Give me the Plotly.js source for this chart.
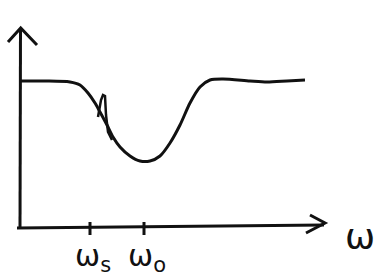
<!DOCTYPE html>
<html>
<head>
<meta charset="utf-8">
<script src="https://cdn.plot.ly/plotly-3.0.1.min.js"></script>
<style>html,body{margin:0;padding:0;background:#fff;}#chart{width:376px;height:280px;}</style>
</head>
<body>
<div id="chart"></div>
<script>
// Response curve (arbitrary units)
const curveX = [0, 2.5, 5, 6, 6.8, 7.5, 8, 8.7, 9.3, 10, 11, 12, 13, 14, 15, 16, 17, 18, 19, 20.3, 23, 24.7, 26.7, 28.5];
const curveY = [14.7, 14.7, 14.6, 14.3, 13.5, 12.5, 11.6, 10.3, 9.1, 8.1, 7.2, 6.7, 6.7, 7.2, 8.5, 10.3, 12.5, 14.1, 14.8, 14.9, 14.7, 14.6, 14.7, 14.8];
// Narrow spike near omega_s
const spikeX = [7.8, 8.1, 8.3, 8.5, 8.6, 8.8, 9.2];
const spikeY = [11.1, 12.8, 13.3, 13.2, 11.3, 9.6, 8.8];
// Tick marks on the frequency axis
const tickVals = [7.0, 12.4];
const tickLabels = ['ω<sub>s</sub>', 'ω<sub>o</sub>'];
const axisLabel = 'ω';

const ink = '#111';
const traces = [
  {x: curveX, y: curveY, mode: 'lines', line: {color: ink, width: 3, shape: 'spline', smoothing: 0.8}, hoverinfo: 'skip'},
  {x: spikeX, y: spikeY, mode: 'lines', line: {color: ink, width: 2.5, shape: 'linear'}, hoverinfo: 'skip'}
];

const shapes = [
  {type: 'line', xref: 'x', yref: 'y', x0: -0.3, y0: 0, x1: 30.4, y1: 0.3, line: {color: ink, width: 3}},
  {type: 'line', xref: 'x', yref: 'y', x0: 0, y0: 0, x1: 0.05, y1: 19.9, line: {color: ink, width: 3}},
  {type: 'path', xref: 'x', yref: 'y', path: 'M29.0,1.3 L30.5,0.5 L28.6,-0.5', line: {color: ink, width: 3}},
  {type: 'path', xref: 'x', yref: 'y', path: 'M-1.2,18.6 L0.07,20.0 L1.7,18.3', line: {color: ink, width: 3}}
].concat(tickVals.map(v => ({type: 'line', xref: 'x', yref: 'y', x0: v, x1: v, y0: -0.7, y1: 0.6, line: {color: ink, width: 3}})));

const labelFont = {size: 30, family: 'DejaVu Sans', color: ink};
const annotations = tickVals.map((v, i) => ({
  x: v + 0.3, y: -2.9, xref: 'x', yref: 'y', text: tickLabels[i], showarrow: false, font: labelFont
})).concat([{x: 34.0, y: -0.8, xref: 'x', yref: 'y', text: axisLabel, showarrow: false,
             font: {size: 36, family: 'DejaVu Sans', color: ink}}]);

const layout = {
  width: 376, height: 280,
  margin: {l: 0, r: 0, t: 0, b: 0},
  paper_bgcolor: '#fff', plot_bgcolor: '#fff',
  showlegend: false,
  xaxis: {range: [-2, 35.6], showgrid: false, zeroline: false, showline: false, showticklabels: false, ticks: ''},
  yaxis: {range: [-5.2, 22.8], showgrid: false, zeroline: false, showline: false, showticklabels: false, ticks: ''},
  shapes: shapes,
  annotations: annotations
};

Plotly.newPlot('chart', traces, layout, {staticPlot: true, displayModeBar: false});
</script>
</body>
</html>
